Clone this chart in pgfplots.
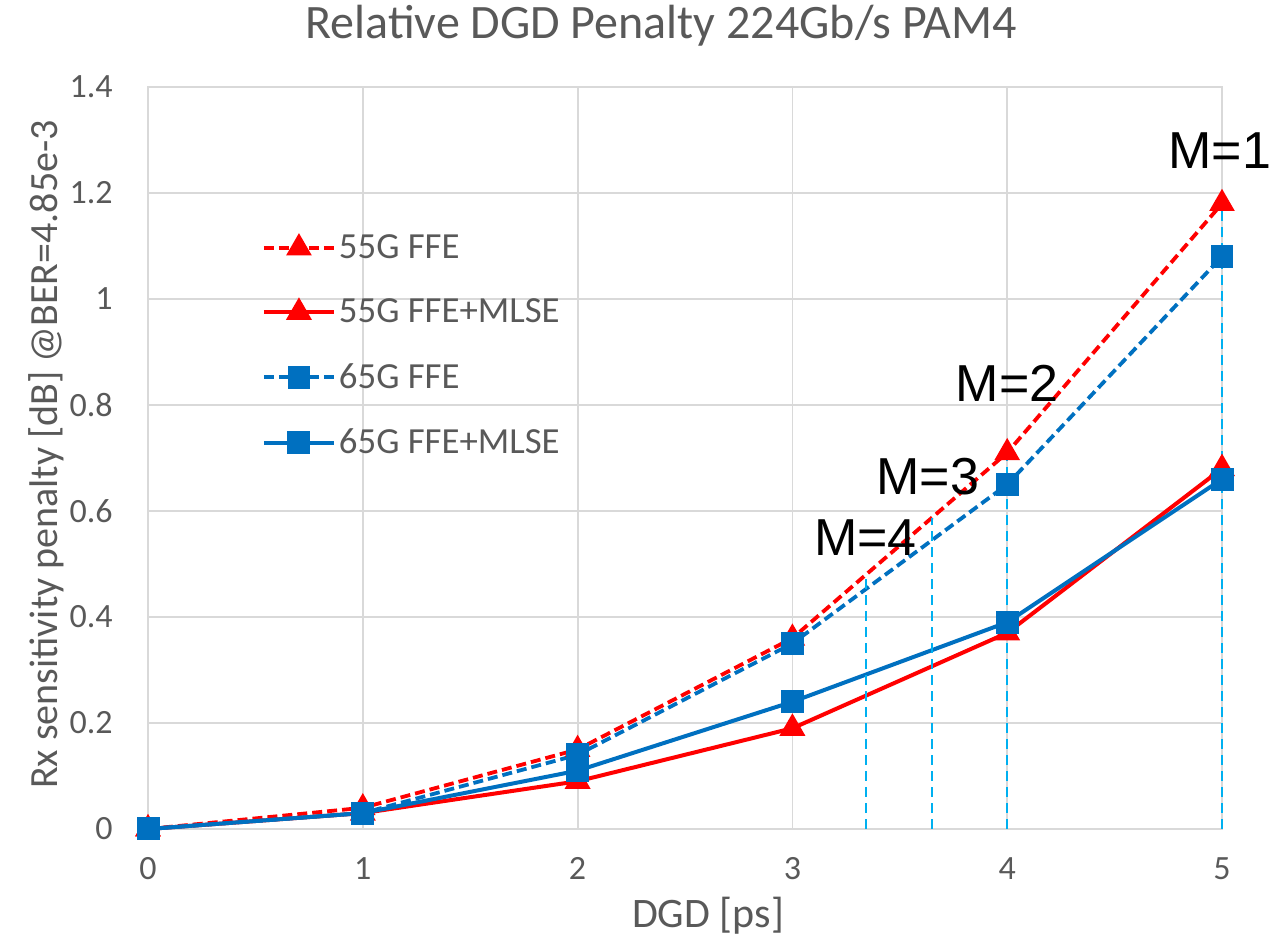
\documentclass[border=0pt]{standalone}
\usepackage{pgfplots}
\pgfplotsset{compat=1.18}
\usepackage{fontspec}
\setmainfont{Carlito}
\newfontfamily\arialf{Liberation Sans}
\definecolor{myred}{RGB}{255,0,0}
\definecolor{myblue}{RGB}{0,112,192}
\definecolor{mylblue}{RGB}{0,176,240}
\definecolor{gridgray}{RGB}{217,217,217}
\definecolor{txtgray}{RGB}{89,89,89}
\begin{document}
\begin{tikzpicture}
\useasboundingbox (0,0) rectangle (644pt,470pt);
\begin{axis}[
  at={(74pt,55.5pt)}, anchor=south west,
  scale only axis, width=537pt, height=371pt,
  xmin=0, xmax=5, ymin=0, ymax=1.4,
  clip=false,
  xtick={0,1,2,3,4,5}, ytick={0,0.2,0.4,0.6,0.8,1,1.2,1.4},
  major tick length=0pt,
  xmajorgrids, ymajorgrids,
  grid style={draw=gridgray, line width=0.9pt},
  axis line style={draw=gridgray, line width=0.9pt},
  /pgf/number format/assume math mode=true,
  yticklabel style={font=\fontsize{17}{17}\selectfont, text=txtgray, inner sep=0pt, anchor=east, xshift=-17.5pt, /pgf/number format/fixed, /pgf/number format/precision=1},
  xticklabel style={font=\fontsize{17}{17}\selectfont, text=txtgray, inner sep=0pt, anchor=north, yshift=-14pt},
  legend style={draw=none, fill=none, inner sep=0pt, outer sep=0pt,
    at={(rel axis cs:0.1061,0.6516)}, anchor=west,
    font=\fontsize{18.4}{18.4}\selectfont, text=txtgray,
    row sep=18.75pt, column sep=1.5pt,
    nodes={inner sep=0pt, anchor=west}},
  legend cell align=left,
  legend image code/.code={\draw[mark repeat=2,mark phase=2,#1] plot coordinates {(0pt,0pt) (17.5pt,0pt) (35pt,0pt)};},
]
\addplot[myred, line width=1.9pt, dash pattern=on 5pt off 2.5pt, mark=triangle*, mark size=5.5pt, mark options={solid}]
  coordinates {(0,0) (1,0.04) (2,0.15) (3,0.36) (4,0.71) (5,1.18)};
\addlegendentry{55G FFE}
\addplot[myred, line width=2pt, mark=triangle*, mark size=5.5pt, mark options={solid}]
  coordinates {(0,0) (1,0.03) (2,0.09) (3,0.19) (4,0.37) (5,0.68)};
\addlegendentry{55G FFE+MLSE}
\addplot[myblue, line width=1.9pt, dash pattern=on 5pt off 2.5pt, mark=square*, mark size=4.75pt, mark options={solid}]
  coordinates {(0,0) (1,0.03) (2,0.14) (3,0.35) (4,0.65) (5,1.08)};
\addlegendentry{65G FFE}
\addplot[myblue, line width=2pt, mark=square*, mark size=4.75pt, mark options={solid}]
  coordinates {(0,0) (1,0.03) (2,0.11) (3,0.24) (4,0.39) (5,0.66)};
\addlegendentry{65G FFE+MLSE}
\addplot[mylblue, line width=1.2pt, dash pattern=on 5pt off 3pt, forget plot] coordinates {(3.343,0) (3.343,0.48)};
\addplot[mylblue, line width=1.2pt, dash pattern=on 5pt off 3pt, forget plot] coordinates {(3.65,0) (3.65,0.5875)};
\addplot[mylblue, line width=1.2pt, dash pattern=on 5pt off 3pt, forget plot] coordinates {(4,0) (4,0.71)};
\addplot[mylblue, line width=1.2pt, dash pattern=on 5pt off 3pt, forget plot] coordinates {(5,0) (5,1.18)};
\node[font=\arialf\fontsize{26}{26}\selectfont] at (axis cs:4.99,1.28) {M=1};
\node[font=\arialf\fontsize{26}{26}\selectfont] at (axis cs:4.0,0.84) {M=2};
\node[font=\arialf\fontsize{26}{26}\selectfont] at (axis cs:3.63,0.664) {M=3};
\node[font=\arialf\fontsize{26}{26}\selectfont] at (axis cs:3.34,0.55) {M=4};
\end{axis}
\node[font=\fontsize{24}{24}\selectfont, text=txtgray] at (330.5pt,457pt) {Relative DGD Penalty 224Gb/s PAM4};
\node[font=\fontsize{21}{21}\selectfont, text=txtgray] at (354pt,12pt) {DGD [ps]};
\node[font=\fontsize{20}{20}\selectfont, text=txtgray, rotate=90] at (23pt,242.75pt) {Rx sensitivity penalty [dB] @BER=4.85e-3};
\end{tikzpicture}
\end{document}
